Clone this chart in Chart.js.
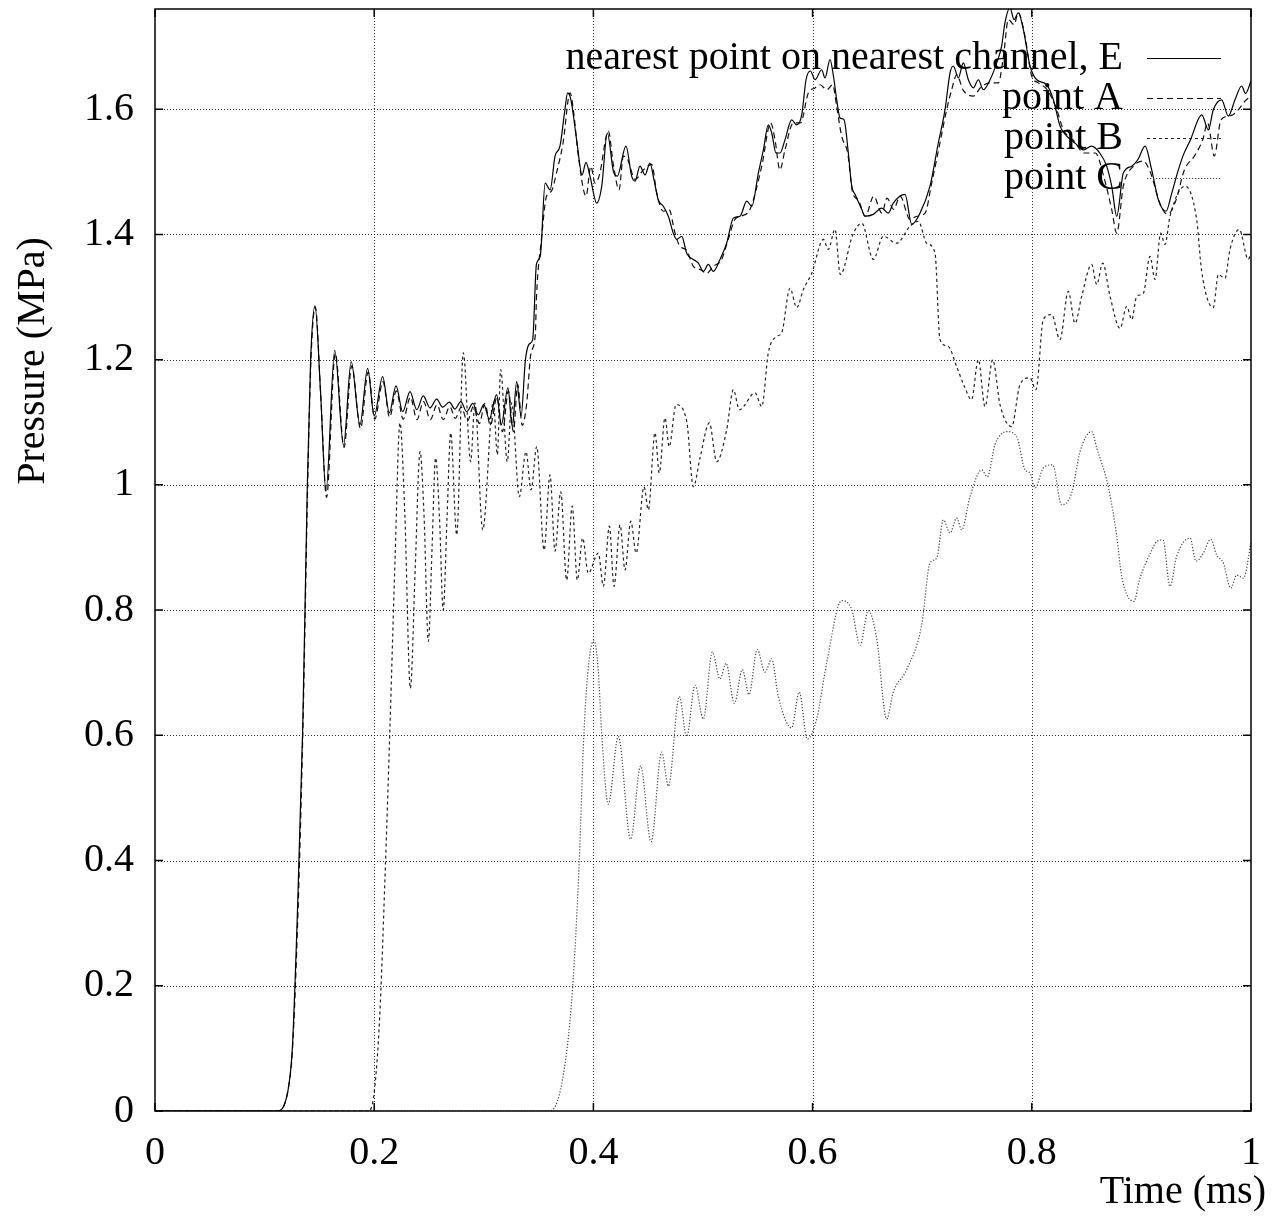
<!DOCTYPE html>
<html>
<head>
<meta charset="utf-8">
<title>Pressure history</title>
<script src="https://cdn.jsdelivr.net/npm/chart.js@4.4.1/dist/chart.umd.min.js"></script>
<style>
  html, body { margin: 0; padding: 0; background: #fff; }
  #wrap { width: 1287px; height: 1217px; }
</style>
</head>
<body>
<div id="wrap"><canvas id="pressureChart" width="1287" height="1217"></canvas></div>
<script>
// axis ticks
var xTicks = [0, 0.2, 0.4, 0.6, 0.8, 1];
var yTicks = [0, 0.2, 0.4, 0.6, 0.8, 1, 1.2, 1.4, 1.6];

// nearest point on nearest channel, E
var eTime = [0, 0.112, 0.118, 0.122, 0.1253, 0.13, 0.1348, 0.139, 0.142, 0.146, 0.151, 0.156, 0.164, 0.172, 0.179, 0.187, 0.194, 0.2,
  0.2077, 0.2138, 0.2199, 0.226, 0.2327, 0.2388, 0.2448, 0.2509, 0.257, 0.2625, 0.2686, 0.2737, 0.279, 0.2844, 0.29, 0.295, 0.3, 0.305,
  0.3117, 0.316, 0.322, 0.326, 0.33, 0.334, 0.338, 0.3415, 0.3446, 0.348, 0.3515, 0.356, 0.3605, 0.365, 0.3695, 0.374, 0.3765, 0.3795,
  0.3847, 0.3897, 0.3932, 0.3969, 0.403, 0.4076, 0.4127, 0.4182, 0.4218, 0.4297, 0.4349, 0.438, 0.4425, 0.4471, 0.4516, 0.4553, 0.4592,
  0.4638, 0.4684, 0.4729, 0.476, 0.4806, 0.4851, 0.4912, 0.4958, 0.5003, 0.5049, 0.5094, 0.5155, 0.5216, 0.5277, 0.5338, 0.5399, 0.5445,
  0.5505, 0.5551, 0.5596, 0.5627, 0.5666, 0.5703, 0.5748, 0.5809, 0.5855, 0.5901, 0.594, 0.598, 0.6022, 0.6083, 0.6113, 0.6159, 0.619,
  0.622, 0.625, 0.6287, 0.6326, 0.6357, 0.6387, 0.6448, 0.6478, 0.6554, 0.663, 0.6691, 0.6736, 0.6843, 0.6905, 0.698, 0.7071, 0.7147,
  0.7208, 0.7254, 0.7284, 0.733, 0.7375, 0.7421, 0.7467, 0.7512, 0.7558, 0.7619, 0.768, 0.7725, 0.7755, 0.7801, 0.7838, 0.7877, 0.7923,
  0.7984, 0.8045, 0.8136, 0.8197, 0.8258, 0.8319, 0.84, 0.847, 0.8546, 0.862, 0.8683, 0.8729, 0.8775, 0.8835, 0.8912, 0.897, 0.9033,
  0.9094, 0.9155, 0.9225, 0.9277, 0.9337, 0.9383, 0.9445, 0.9551, 0.9611, 0.9656, 0.9732, 0.9793, 0.9854, 0.9915, 0.995, 1];
var eVals = [0, 0, 0.01, 0.04, 0.1, 0.32, 0.614, 1.0, 1.2, 1.286, 1.15, 0.99, 1.215, 1.063, 1.197, 1.096, 1.186, 1.11,
  1.173, 1.115, 1.158, 1.117, 1.149, 1.12, 1.142, 1.123, 1.137, 1.124, 1.132, 1.121, 1.133, 1.117, 1.13, 1.112, 1.128, 1.105,
  1.144, 1.096, 1.155, 1.093, 1.165, 1.11, 1.2, 1.225, 1.232, 1.352, 1.365, 1.482, 1.471, 1.525, 1.541, 1.599, 1.626, 1.615,
  1.551, 1.495, 1.515, 1.493, 1.45, 1.477, 1.562, 1.501, 1.493, 1.541, 1.493, 1.485, 1.509, 1.495, 1.514, 1.487, 1.455,
  1.445, 1.429, 1.402, 1.392, 1.397, 1.37, 1.36, 1.354, 1.341, 1.352, 1.341, 1.36, 1.386, 1.426, 1.429, 1.453, 1.445,
  1.498, 1.535, 1.575, 1.562, 1.53, 1.53, 1.551, 1.583, 1.575, 1.591, 1.647, 1.661, 1.647, 1.663, 1.65, 1.679, 1.653,
  1.615, 1.586, 1.583, 1.53, 1.477, 1.464, 1.44, 1.429, 1.432, 1.442, 1.434, 1.45, 1.464, 1.416, 1.434, 1.477, 1.546,
  1.599, 1.658, 1.669, 1.65, 1.674, 1.647, 1.634, 1.647, 1.631, 1.647, 1.674, 1.701, 1.738, 1.762, 1.743, 1.754, 1.727,
  1.669, 1.647, 1.639, 1.615, 1.573, 1.557, 1.545, 1.535, 1.541, 1.53, 1.509, 1.477, 1.429, 1.498, 1.509, 1.52, 1.541,
  1.503, 1.455, 1.437, 1.466, 1.503, 1.527, 1.55, 1.591, 1.567, 1.599, 1.615, 1.589, 1.615, 1.637, 1.625, 1.645];

// point A
var aTime = [0, 0.112, 0.118, 0.122, 0.1255, 0.1305, 0.135, 0.1393, 0.1423, 0.1463, 0.1513, 0.1565, 0.1645, 0.1725, 0.1795, 0.1875,
  0.1945, 0.2005, 0.208, 0.214, 0.2202, 0.2265, 0.233, 0.239, 0.245, 0.2512, 0.2573, 0.263, 0.269, 0.274, 0.2795, 0.285, 0.2905, 0.296,
  0.301, 0.306, 0.312, 0.317, 0.3225, 0.327, 0.331, 0.335, 0.339, 0.343, 0.347, 0.3481, 0.3526, 0.3572, 0.3617, 0.3663, 0.3723, 0.3787,
  0.3817, 0.3863, 0.3933, 0.3976, 0.4015, 0.4055, 0.4136, 0.4182, 0.4234, 0.4273, 0.4312, 0.438, 0.4456, 0.4532, 0.4578, 0.4638, 0.469,
  0.4745, 0.479, 0.485, 0.4912, 0.4973, 0.5034, 0.5094, 0.517, 0.523, 0.5292, 0.536, 0.5429, 0.5536, 0.5618, 0.5657, 0.5702, 0.5748,
  0.5824, 0.589, 0.5961, 0.6022, 0.6068, 0.6129, 0.6183, 0.6219, 0.6265, 0.632, 0.6366, 0.6417, 0.6481, 0.6557, 0.6633, 0.6679, 0.6739,
  0.6798, 0.6889, 0.695, 0.7026, 0.7087, 0.7162, 0.7223, 0.7269, 0.7315, 0.7375, 0.7467, 0.7535, 0.7619, 0.7695, 0.7741, 0.7786, 0.7838,
  0.7877, 0.7938, 0.7999, 0.806, 0.8145, 0.8228, 0.8288, 0.838, 0.848, 0.858, 0.866, 0.8729, 0.8775, 0.8835, 0.8927, 0.9018, 0.908,
  0.9179, 0.924, 0.9316, 0.9392, 0.9483, 0.9559, 0.9605, 0.9665, 0.9726, 0.982, 0.9884, 0.9945, 1];
var aVals = [0, 0, 0.01, 0.04, 0.1, 0.32, 0.614, 1.0, 1.2, 1.284, 1.14, 0.98, 1.21, 1.06, 1.19, 1.09,
  1.18, 1.105, 1.165, 1.108, 1.15, 1.105, 1.14, 1.104, 1.133, 1.104, 1.128, 1.104, 1.125, 1.106, 1.124, 1.102, 1.125, 1.098,
  1.13, 1.095, 1.14, 1.085, 1.15, 1.085, 1.16, 1.095, 1.128, 1.21, 1.24, 1.301, 1.392, 1.461, 1.469, 1.498, 1.546, 1.626,
  1.599, 1.525, 1.461, 1.509, 1.482, 1.495, 1.565, 1.512, 1.471, 1.525, 1.52, 1.488, 1.503, 1.512, 1.466, 1.437, 1.44,
  1.402, 1.381, 1.375, 1.349, 1.344, 1.338, 1.349, 1.36, 1.392, 1.424, 1.43, 1.44, 1.509, 1.578, 1.551, 1.503, 1.535,
  1.578, 1.578, 1.626, 1.634, 1.639, 1.631, 1.639, 1.605, 1.557, 1.53, 1.466, 1.455, 1.429, 1.461, 1.434, 1.458, 1.44,
  1.461, 1.424, 1.429, 1.434, 1.482, 1.546, 1.599, 1.631, 1.655, 1.63, 1.621, 1.635, 1.642, 1.642, 1.684, 1.743, 1.735,
  1.754, 1.716, 1.653, 1.642, 1.63, 1.599, 1.567, 1.55, 1.53, 1.53, 1.49, 1.44, 1.402, 1.477, 1.509, 1.517, 1.5,
  1.445, 1.432, 1.455, 1.503, 1.525, 1.551, 1.578, 1.525, 1.583, 1.59, 1.599, 1.613, 1.621];

// point B
var bTime = [0, 0.195, 0.2, 0.205, 0.21, 0.2144, 0.219, 0.2235, 0.228, 0.233, 0.2375, 0.2418, 0.2455, 0.2494, 0.2528, 0.256, 0.2595,
  0.263, 0.2665, 0.2698, 0.2753, 0.2813, 0.288, 0.2919, 0.299, 0.3087, 0.3124, 0.3154, 0.3214, 0.3254, 0.3324, 0.3385, 0.3431, 0.3483,
  0.355, 0.3604, 0.365, 0.3702, 0.3756, 0.3807, 0.3853, 0.3902, 0.3953, 0.4045, 0.4091, 0.4146, 0.4188, 0.4243, 0.4289, 0.4341, 0.439,
  0.4462, 0.4501, 0.4562, 0.4601, 0.4653, 0.4692, 0.4754, 0.4852, 0.4912, 0.4973, 0.5058, 0.5125, 0.5216, 0.5277, 0.5332, 0.5475, 0.5536,
  0.5596, 0.5672, 0.5718, 0.5794, 0.5855, 0.5916, 0.5992, 0.6098, 0.6143, 0.6204, 0.6253, 0.6368, 0.6448, 0.6554, 0.6645, 0.6767, 0.6889,
  0.6965, 0.7041, 0.7117, 0.7162, 0.7238, 0.7314, 0.739, 0.745, 0.7512, 0.7573, 0.7643, 0.771, 0.7816, 0.7892, 0.7983, 0.8038, 0.8105,
  0.8181, 0.8257, 0.8333, 0.8394, 0.8455, 0.8546, 0.8592, 0.8647, 0.8714, 0.8805, 0.8866, 0.8912, 0.8957, 0.9018, 0.9078, 0.9124, 0.9176,
  0.9215, 0.9261, 0.9398, 0.9504, 0.955, 0.9656, 0.9702, 0.9763, 0.9808, 0.9893, 0.9975, 1];
var bVals = [0, 0, 0.03, 0.15, 0.38, 0.614, 0.88, 1.099, 0.95, 0.675, 0.87, 1.053, 0.95, 0.75, 0.9, 1.043, 0.95,
  0.8, 0.95, 1.083, 0.92, 1.211, 1.037, 1.131, 0.928, 1.133, 1.048, 1.184, 1.037, 1.131, 0.981, 1.053, 0.992, 1.061,
  0.896, 1.016, 0.894, 0.989, 0.848, 0.966, 0.848, 0.915, 0.859, 0.891, 0.838, 0.934, 0.838, 0.936, 0.864, 0.942, 0.891,
  0.997, 0.96, 1.083, 1.019, 1.107, 1.061, 1.128, 1.101, 0.997, 1.043, 1.099, 1.037, 1.088, 1.152, 1.12, 1.147, 1.125,
  1.211, 1.237, 1.243, 1.314, 1.283, 1.312, 1.338, 1.392, 1.376, 1.408, 1.336, 1.4, 1.418, 1.36, 1.397, 1.386, 1.413,
  1.421, 1.386, 1.37, 1.232, 1.221, 1.189, 1.155, 1.136, 1.2, 1.125, 1.2, 1.128, 1.093, 1.16, 1.171, 1.152, 1.264,
  1.272, 1.232, 1.309, 1.258, 1.301, 1.352, 1.32, 1.354, 1.301, 1.25, 1.285, 1.264, 1.301, 1.306, 1.365, 1.328, 1.402,
  1.384, 1.429, 1.477, 1.424, 1.341, 1.283, 1.336, 1.33, 1.376, 1.408, 1.36, 1.37];

// point C
var cTime = [0, 0.36, 0.3716, 0.3808, 0.3869, 0.3914, 0.396, 0.4005, 0.4044, 0.4075, 0.4136, 0.4227, 0.434, 0.4431, 0.4526, 0.4623,
  0.4684, 0.4784, 0.4851, 0.4927, 0.5003, 0.5085, 0.5155, 0.521, 0.5286, 0.5359, 0.542, 0.5495, 0.5566, 0.5627, 0.5687, 0.5809, 0.5878,
  0.5952, 0.6037, 0.6128, 0.6265, 0.6357, 0.6433, 0.6508, 0.6585, 0.6676, 0.6736, 0.6858, 0.6995, 0.7071, 0.7132, 0.7193, 0.7254, 0.7315,
  0.736, 0.7436, 0.7543, 0.7594, 0.7664, 0.7771, 0.7862, 0.7938, 0.7984, 0.8029, 0.8105, 0.819, 0.8272, 0.8364, 0.844, 0.8546, 0.8592,
  0.8698, 0.8775, 0.882, 0.8933, 0.8982, 0.9096, 0.9142, 0.9197, 0.9261, 0.9322, 0.9444, 0.9498, 0.9565, 0.9632, 0.9687, 0.9748, 0.9815,
  0.987, 0.9931, 1];
var cVals = [0, 0, 0.048, 0.191, 0.391, 0.605, 0.719, 0.751, 0.705, 0.605, 0.49, 0.598, 0.434, 0.551, 0.43, 0.573,
  0.519, 0.662, 0.598, 0.68, 0.626, 0.733, 0.69, 0.715, 0.651, 0.705, 0.665, 0.737, 0.701, 0.722, 0.662, 0.612, 0.669,
  0.594, 0.626, 0.715, 0.815, 0.801, 0.744, 0.799, 0.754, 0.626, 0.669, 0.705, 0.776, 0.875, 0.883, 0.944, 0.923, 0.947,
  0.928, 0.981, 1.024, 1.013, 1.064, 1.085, 1.077, 1.024, 1.019, 0.995, 1.027, 1.032, 0.968, 0.987, 1.053, 1.085, 1.059,
  0.997, 0.918, 0.854, 0.814, 0.848, 0.896, 0.91, 0.912, 0.838, 0.886, 0.915, 0.878, 0.891, 0.913, 0.888, 0.875, 0.835,
  0.856, 0.851, 0.907];

var seriesNames = ['nearest point on nearest channel, E', 'point A', 'point B', 'point C'];

var FONT = '40px "Liberation Serif", "Times New Roman", serif';

function pairs(ts, vs) {
    return ts.map(function (t, i) { return { x: t, y: vs[i] }; });
}

// gnuplot-like line styles: solid, dashed, short dash, dotted
var styles = [
    { color: '#000000', dash: [] },
    { color: '#111111', dash: [6, 4] },
    { color: '#222222', dash: [3, 3] },
    { color: '#444444', dash: [1.2, 1.8] }
];

var fmt = function (v) {
    return String(Number(v.toFixed(1)));
};

// dotted grid, frame, inward tick marks
const frameAndGrid = {
    id: 'frameAndGrid',
    beforeDatasetsDraw: function (chart) {
        var ctx = chart.ctx;
        var area = chart.chartArea;
        var xs = chart.scales.x, ys = chart.scales.y;
        ctx.save();
        ctx.strokeStyle = 'rgba(0,0,0,0.8)';
        ctx.lineWidth = 1;
        ctx.setLineDash([1, 2]);
        xTicks.forEach(function (t) {
            var px = Math.round(xs.getPixelForValue(t)) + 0.5;
            if (px <= area.left + 1 || px >= area.right - 1) return;
            ctx.beginPath();
            ctx.moveTo(px, area.top);
            ctx.lineTo(px, area.bottom);
            ctx.stroke();
        });
        yTicks.forEach(function (v) {
            var py = Math.round(ys.getPixelForValue(v)) + 0.5;
            if (py >= area.bottom - 1 || py <= area.top + 1) return;
            ctx.beginPath();
            ctx.moveTo(area.left, py);
            ctx.lineTo(area.right, py);
            ctx.stroke();
        });
        ctx.restore();
    },
    afterDatasetsDraw: function (chart) {
        var ctx = chart.ctx;
        var area = chart.chartArea;
        var xs = chart.scales.x, ys = chart.scales.y;
        var len = 8;
        ctx.save();
        ctx.strokeStyle = '#000';
        ctx.lineWidth = 1.5;
        ctx.setLineDash([]);
        ctx.strokeRect(area.left, area.top, area.right - area.left, area.bottom - area.top);
        ctx.beginPath();
        xTicks.forEach(function (t) {
            var px = xs.getPixelForValue(t);
            ctx.moveTo(px, area.bottom);
            ctx.lineTo(px, area.bottom - len);
            ctx.moveTo(px, area.top);
            ctx.lineTo(px, area.top + len);
        });
        yTicks.forEach(function (v) {
            var py = ys.getPixelForValue(v);
            ctx.moveTo(area.left, py);
            ctx.lineTo(area.left + len, py);
            ctx.moveTo(area.right, py);
            ctx.lineTo(area.right - len, py);
        });
        ctx.stroke();

        // key in the upper right corner
        ctx.font = FONT;
        ctx.fillStyle = '#000';
        ctx.textAlign = 'right';
        ctx.textBaseline = 'middle';
        seriesNames.forEach(function (name, i) {
            var y = 58 + i * 40;
            ctx.fillText(name, 1123, y);
            ctx.strokeStyle = styles[i].color;
            ctx.lineWidth = 1.2;
            ctx.setLineDash(styles[i].dash);
            ctx.beginPath();
            ctx.moveTo(1147, y + 0.5);
            ctx.lineTo(1221, y + 0.5);
            ctx.stroke();
        });
        ctx.setLineDash([]);

        // axis titles
        ctx.textAlign = 'right';
        ctx.fillText('Time (ms)', 1266, 1192);
        ctx.translate(33, 361);
        ctx.rotate(-Math.PI / 2);
        ctx.textAlign = 'center';
        ctx.fillText('Pressure (MPa)', 0, 0);
        ctx.restore();
    }
};

let canvas = document.getElementById('pressureChart');
let pressureChart = new Chart(canvas, {
    type: 'line',
    data: {
        datasets: [eTime, aTime, bTime, cTime].map(function (ts, i) {
            var vs = [eVals, aVals, bVals, cVals][i];
            return {
                label: seriesNames[i],
                data: pairs(ts, vs),
                borderColor: styles[i].color,
                borderDash: styles[i].dash,
                borderWidth: 1.2,
                pointRadius: 0,
                fill: false,
                cubicInterpolationMode: 'monotone'
            };
        })
    },
    options: {
        responsive: false,
        devicePixelRatio: 1,
        animation: false,
        layout: { padding: { top: 9, right: 36, left: 0, bottom: 0 } },
        plugins: {
            legend: { display: false },
            tooltip: { enabled: false }
        },
        scales: {
            x: {
                type: 'linear',
                min: 0,
                max: 1,
                grid: { display: false, drawTicks: false },
                border: { display: false },
                afterBuildTicks: function (scale) {
                    scale.ticks = xTicks.map(function (v) { return { value: v }; });
                },
                afterFit: function (scale) {
                    scale.height = 106;
                    scale.paddingLeft = 0;
                    scale.paddingRight = 0;
                },
                ticks: {
                    font: { family: '"Liberation Serif", serif', size: 40 },
                    color: '#000',
                    padding: 18,
                    maxRotation: 0,
                    callback: fmt
                }
            },
            y: {
                type: 'linear',
                min: 0,
                max: 1.76,
                grid: { display: false, drawTicks: false },
                border: { display: false },
                afterBuildTicks: function (scale) {
                    scale.ticks = yTicks.map(function (v) { return { value: v }; });
                },
                afterFit: function (scale) {
                    scale.width = 155;
                    scale.paddingTop = 0;
                    scale.paddingBottom = 0;
                },
                ticks: {
                    font: { family: '"Liberation Serif", serif', size: 40 },
                    color: '#000',
                    padding: 21,
                    callback: fmt
                }
            }
        }
    },
    plugins: [frameAndGrid]
});
</script>
</body>
</html>
